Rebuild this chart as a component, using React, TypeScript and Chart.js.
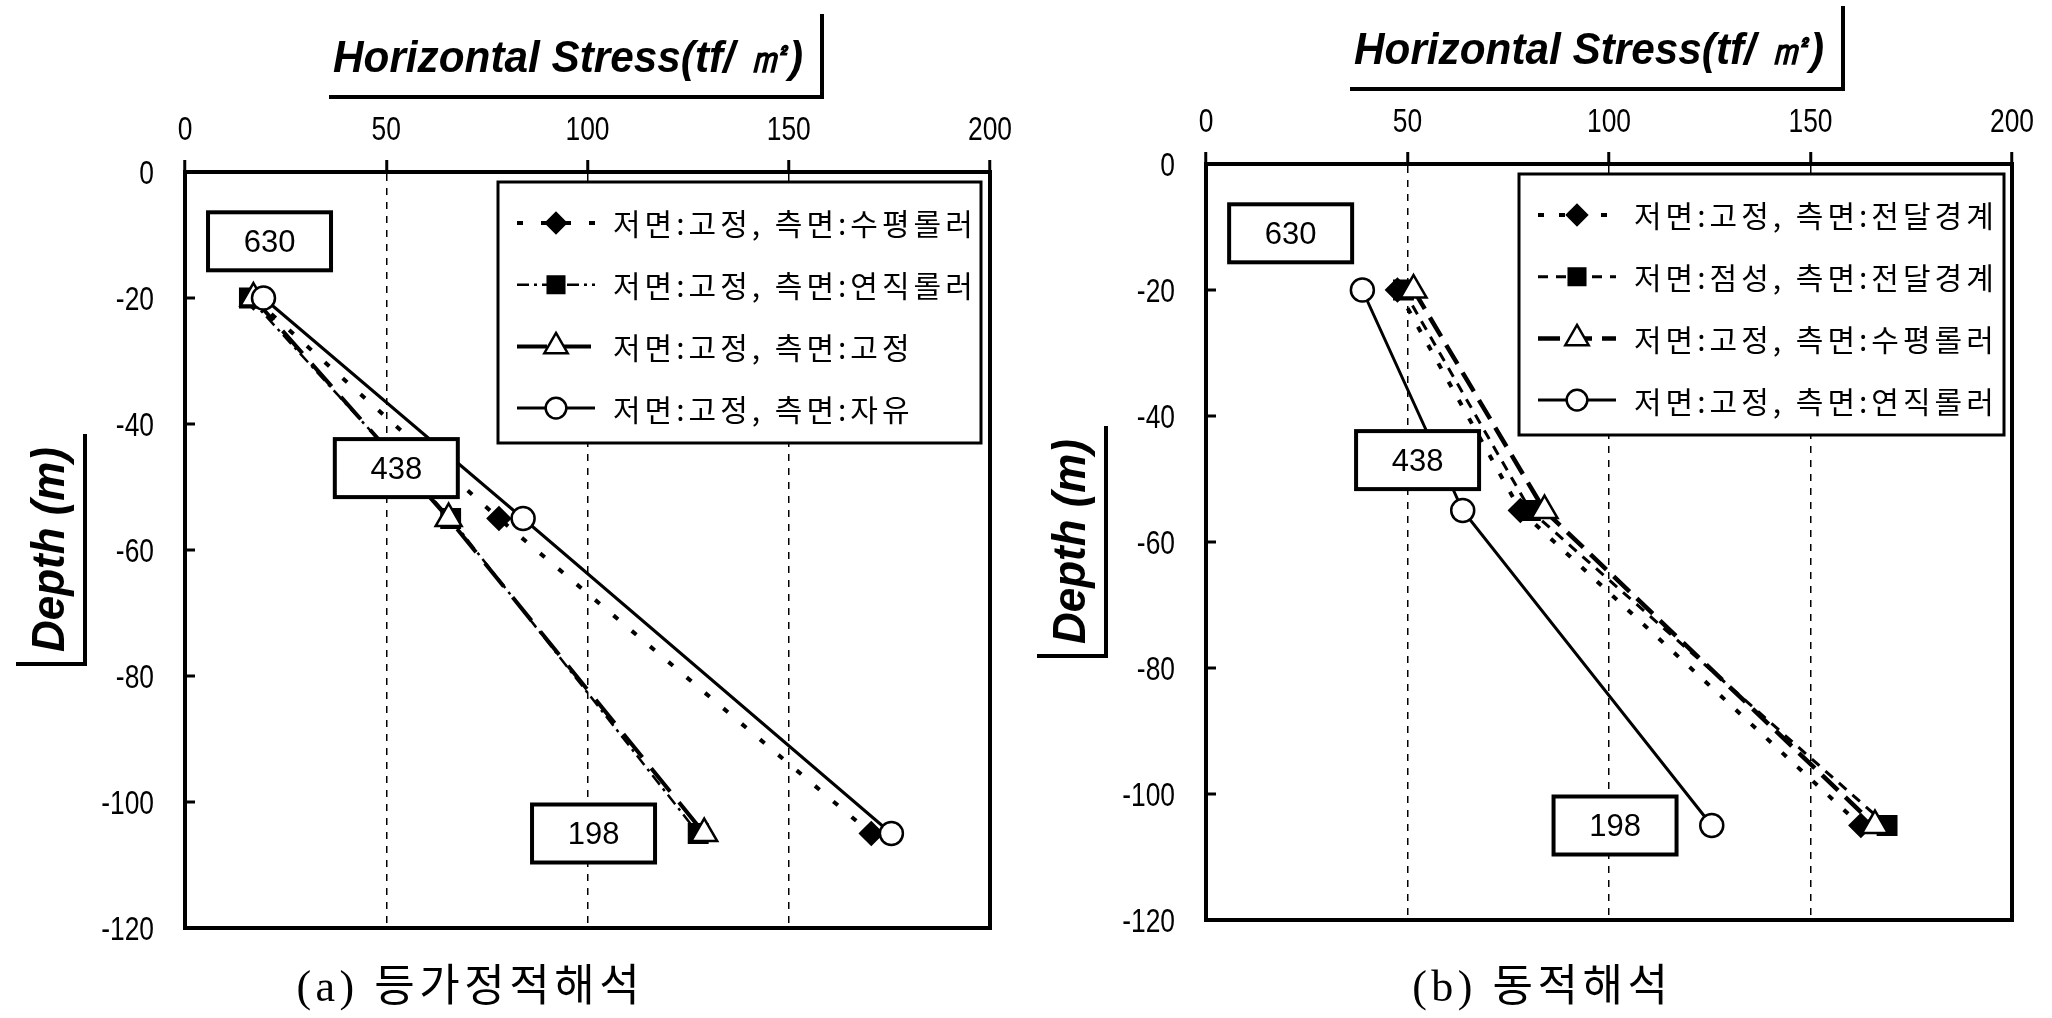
import React, { useEffect, useRef } from 'react';
import { Chart, registerables } from 'chart.js';

Chart.register(...registerables);

// ---------------- data ----------------
const depthLevels = [-20, -55, -105];
const xTickValues = [0, 50, 100, 150, 200];
const yTickValues = [0, -20, -40, -60, -80, -100, -120];

// (a) 등가정적해석
const aFixedHorizRoller = [17, 78, 170.5];
const aFixedVertRoller = [16, 66, 127.5];
const aFixedFixed = [17, 65.5, 129];
const aFixedFree = [19.5, 84, 175.5];
const labelsA = ['저면:고정, 측면:수평롤러', '저면:고정, 측면:연직롤러', '저면:고정, 측면:고정', '저면:고정, 측면:자유'];

// (b) 동적해석
const bFixedTransmit = [47.5, 78, 162.5];
const bViscousTransmit = [49, 80.5, 169];
const bFixedHorizRoller = [51.5, 84, 166];
const bFixedVertRoller = [38.8, 63.7, 125.5];
const labelsB = ['저면:고정, 측면:전달경계', '저면:점성, 측면:전달경계', '저면:고정, 측면:수평롤러', '저면:고정, 측면:연직롤러'];

// boxed annotations (data coordinates)
const boxTexts = ['630', '438', '198'];
const boxXValues = [21, 52.5, 101.5];
const boxYValues = [-11, -47, -105];

const axisTitleX = 'Horizontal Stress(tf/ ㎡)';
const axisTitleY = 'Depth (m)';
const captionA = '(a) 등가정적해석';
const captionB = '(b) 동적해석';

// ---------------- styles ----------------
const markerStyles = ['rectRot', 'rect', 'triangle', 'circle'];
const markerFill = ['#000', '#000', '#fff', '#fff'];
const markerRadius = [11, 13, 15, 11.5];
const drawOrder = [2, 3, 1, 0];
const lineWidthsA = [4, 2.5, 4, 3];
const dashesA = [[6, 18], [12, 5, 3, 5], [30, 14], []];
const lineWidthsB = [4, 3, 4.5, 3];
const dashesB = [[6, 15], [10, 8], [22, 10], []];

function drawMarker(ctx: CanvasRenderingContext2D, style: string, x: number, y: number, r: number, fill: string) {
  ctx.save();
  ctx.setLineDash([]);
  ctx.beginPath();
  if (style === 'circle') {
    ctx.arc(x, y, r, 0, Math.PI * 2);
  } else if (style === 'rectRot') {
    ctx.moveTo(x - r, y);
    ctx.lineTo(x, y - r);
    ctx.lineTo(x + r, y);
    ctx.lineTo(x, y + r);
    ctx.closePath();
  } else if (style === 'rect') {
    const s = r * Math.SQRT1_2;
    ctx.rect(x - s, y - s, 2 * s, 2 * s);
  } else {
    let rad = 0;
    ctx.moveTo(x + Math.sin(rad) * r, y - Math.cos(rad) * r);
    rad += (2 * Math.PI) / 3;
    ctx.lineTo(x + Math.sin(rad) * r, y - Math.cos(rad) * r);
    rad += (2 * Math.PI) / 3;
    ctx.lineTo(x + Math.sin(rad) * r, y - Math.cos(rad) * r);
    ctx.closePath();
  }
  ctx.fillStyle = fill;
  ctx.fill();
  ctx.lineWidth = 2.5;
  ctx.strokeStyle = '#000';
  ctx.stroke();
  ctx.restore();
}

function drawSpaced(ctx: CanvasRenderingContext2D, text: string, x: number, y: number, spacing: number, align: 'left' | 'center') {
  const chars = Array.from(text);
  const widths = chars.map((c) => ctx.measureText(c).width);
  const total = widths.reduce((a, b) => a + b, 0) + spacing * (chars.length - 1);
  let cx = align === 'center' ? x - total / 2 : x;
  ctx.textAlign = 'left';
  chars.forEach((c, i) => {
    ctx.fillText(c, cx, y);
    cx += widths[i] + spacing;
  });
}

function drawFitted(ctx: CanvasRenderingContext2D, text: string, x: number, y: number, width: number) {
  const w = ctx.measureText(text).width;
  ctx.save();
  ctx.translate(x, y);
  ctx.scale(width / w, 1);
  ctx.textAlign = 'left';
  ctx.fillText(text, 0, 0);
  ctx.restore();
}

function drawCondensed(ctx: CanvasRenderingContext2D, text: string, x: number, y: number, sx: number, align: 'center' | 'right') {
  const w = ctx.measureText(text).width * sx;
  ctx.save();
  ctx.translate(align === 'center' ? x - w / 2 : x - w, y);
  ctx.scale(sx, 1);
  ctx.textAlign = 'left';
  ctx.fillText(text, 0, 0);
  ctx.restore();
}

type PanelCfg = {
  left: number;
  yAxisW: number;
  xAxisH: number;
  padR: number;
  padB: number;
  legendRightGap: number;
  series: number[][];
  labels: string[];
  widths: number[];
  dashes: number[][];
  caption: string;
  captionCenter: number;
};

function makeDecor(cfg: PanelCfg) {
  return {
    id: 'decor',
    beforeDatasetsDraw(chart: any) {
      const { ctx, chartArea: ca } = chart;
      ctx.save();
      ctx.strokeStyle = '#000';
      ctx.setLineDash([]);
      ctx.lineWidth = 4;
      ctx.strokeRect(ca.left, ca.top, ca.right - ca.left, ca.bottom - ca.top);
      const ys = chart.scales.y;
      ctx.lineWidth = 3;
      yTickValues.forEach((v) => {
        const py = ys.getPixelForValue(v);
        ctx.beginPath();
        ctx.moveTo(ca.left, py);
        ctx.lineTo(ca.left + 10, py);
        ctx.stroke();
      });
      ctx.restore();
    },
    afterDatasetsDraw(chart: any) {
      const { ctx, chartArea: ca } = chart;
      const xs = chart.scales.x;
      const ys = chart.scales.y;
      ctx.save();
      // boxed annotations
      boxTexts.forEach((t, i) => {
        const cx = xs.getPixelForValue(boxXValues[i]);
        const cy = ys.getPixelForValue(boxYValues[i]);
        const w = 123, h = 58;
        ctx.fillStyle = '#fff';
        ctx.fillRect(cx - w / 2, cy - h / 2, w, h);
        ctx.lineWidth = 4;
        ctx.strokeStyle = '#000';
        ctx.setLineDash([]);
        ctx.strokeRect(cx - w / 2, cy - h / 2, w, h);
        ctx.fillStyle = '#000';
        ctx.font = '31px "Liberation Sans", Arial, sans-serif';
        ctx.textAlign = 'center';
        ctx.textBaseline = 'middle';
        ctx.fillText(t, cx, cy + 2);
      });
      // legend
      const lx0 = ca.left + 313, lx1 = ca.right - cfg.legendRightGap;
      const ly0 = ca.top + 10, ly1 = ca.top + 271;
      ctx.fillStyle = '#fff';
      ctx.fillRect(lx0, ly0, lx1 - lx0, ly1 - ly0);
      ctx.lineWidth = 3;
      ctx.strokeStyle = '#000';
      ctx.setLineDash([]);
      ctx.strokeRect(lx0, ly0, lx1 - lx0, ly1 - ly0);
      cfg.labels.forEach((lab, i) => {
        const y = ca.top + 51 + i * 61.7;
        const s0 = ca.left + 332, s1 = ca.left + 410;
        ctx.save();
        ctx.strokeStyle = '#000';
        ctx.lineWidth = cfg.widths[i];
        ctx.setLineDash(cfg.dashes[i]);
        ctx.beginPath();
        ctx.moveTo(s0, y);
        ctx.lineTo(s1, y);
        ctx.stroke();
        ctx.restore();
        drawMarker(ctx, markerStyles[i], (s0 + s1) / 2, y, markerRadius[i] * 0.9, markerFill[i]);
        ctx.fillStyle = '#000';
        ctx.font = '30px "Noto Sans CJK KR", sans-serif';
        ctx.textBaseline = 'middle';
        drawSpaced(ctx, lab, ca.left + 428, y + 1, 4, 'left');
      });
      ctx.restore();
    },
    afterDraw(chart: any) {
      const { ctx, chartArea: ca } = chart;
      const xs = chart.scales.x;
      const ys = chart.scales.y;
      ctx.save();
      ctx.fillStyle = '#000';
      ctx.strokeStyle = '#000';
      // tick labels
      ctx.font = '33px "Liberation Sans", Arial, sans-serif';
      ctx.textBaseline = 'middle';
      xTickValues.forEach((v) => {
        drawCondensed(ctx, String(v), xs.getPixelForValue(v), ca.top - 41, 0.8, 'center');
      });
      yTickValues.forEach((v) => {
        drawCondensed(ctx, String(v), ca.left - 31, ys.getPixelForValue(v) + 3, 0.8, 'right');
      });
      // x-axis title with underline + bar
      ctx.font = 'italic bold 44px "Liberation Sans", Arial, sans-serif';
      ctx.textBaseline = 'alphabetic';
      drawFitted(ctx, axisTitleX, ca.left + 148, ca.top - 100, 470);
      ctx.lineWidth = 4;
      ctx.setLineDash([]);
      ctx.beginPath();
      ctx.moveTo(ca.left + 144, ca.top - 75);
      ctx.lineTo(ca.left + 637, ca.top - 75);
      ctx.lineTo(ca.left + 637, Math.max(4, ca.top - 158));
      ctx.stroke();
      // y-axis title with bar + underline
      ctx.save();
      ctx.translate(ca.left - 121, ca.top + 378);
      ctx.rotate(-Math.PI / 2);
      ctx.font = 'italic bold 46px "Liberation Sans", Arial, sans-serif';
      drawFitted(ctx, axisTitleY, -102, 0, 205);
      ctx.restore();
      ctx.beginPath();
      ctx.moveTo(ca.left - 100, ca.top + 262);
      ctx.lineTo(ca.left - 100, ca.top + 492);
      ctx.lineTo(ca.left - 169, ca.top + 492);
      ctx.stroke();
      // caption
      ctx.font = '44px "Liberation Serif", "Noto Sans CJK KR", serif';
      ctx.textBaseline = 'alphabetic';
      drawSpaced(ctx, cfg.caption, cfg.captionCenter, 1001, 4.5, 'center');
      ctx.restore();
    },
  };
}

function Panel({ cfg }: { cfg: PanelCfg }) {
  const ref = useRef<HTMLCanvasElement | null>(null);
  useEffect(() => {
    if (!ref.current) return;
    const datasets = cfg.series.map((vals, i) => ({
      label: cfg.labels[i],
      data: vals.map((x, j) => ({ x, y: depthLevels[j] })),
      showLine: true,
      borderColor: '#000',
      borderWidth: cfg.widths[i],
      borderDash: cfg.dashes[i],
      pointStyle: markerStyles[i],
      pointRadius: markerRadius[i],
      pointBackgroundColor: markerFill[i],
      pointBorderColor: '#000',
      pointBorderWidth: 2.5,
      order: drawOrder[i],
      clip: false,
    }));
    const chart = new Chart(ref.current, {
      type: 'scatter',
      data: { datasets },
      options: {
        responsive: false,
        animation: false,
        layout: { padding: { left: 0, top: 0, right: cfg.padR, bottom: cfg.padB } },
        plugins: { legend: { display: false }, tooltip: { enabled: false } },
        scales: {
          x: {
            type: 'linear',
            position: 'top',
            min: 0,
            max: 200,
            afterBuildTicks: (s: any) => {
              s.ticks = xTickValues.map((v) => ({ value: v }));
            },
            afterFit: (s: any) => {
              s.height = cfg.xAxisH;
            },
            ticks: { display: false },
            grid: {
              display: true,
              drawOnChartArea: true,
              drawTicks: true,
              color: '#000',
              lineWidth: 1.5,
              tickLength: 12,
              tickWidth: 3,
              tickColor: '#000',
              tickBorderDash: [],
            },
            border: { display: true, color: '#000', width: 4, dash: [7, 7] },
          },
          y: {
            type: 'linear',
            position: 'left',
            min: -120,
            max: 0,
            afterBuildTicks: (s: any) => {
              s.ticks = yTickValues.map((v) => ({ value: v }));
            },
            afterFit: (s: any) => {
              s.width = cfg.yAxisW;
            },
            ticks: { display: false },
            grid: { display: false },
            border: { display: true, color: '#000', width: 4 },
          },
        },
      } as any,
      plugins: [makeDecor(cfg) as any],
    });
    return () => chart.destroy();
  }, []);
  return (
    <canvas
      ref={ref}
      width={1026}
      height={1018}
      style={{ position: 'absolute', left: cfg.left, top: 0, width: 1026, height: 1018 }}
    />
  );
}

const panelA: PanelCfg = {
  left: 0,
  yAxisW: 185,
  xAxisH: 172,
  padR: 36,
  padB: 90,
  legendRightGap: 9,
  series: [aFixedHorizRoller, aFixedVertRoller, aFixedFixed, aFixedFree],
  labels: labelsA,
  widths: lineWidthsA,
  dashes: dashesA,
  caption: captionA,
  captionCenter: 468,
};

const panelB: PanelCfg = {
  left: 1026,
  yAxisW: 180,
  xAxisH: 164,
  padR: 40,
  padB: 98,
  legendRightGap: 8,
  series: [bFixedTransmit, bViscousTransmit, bFixedHorizRoller, bFixedVertRoller],
  labels: labelsB,
  widths: lineWidthsB,
  dashes: dashesB,
  caption: captionB,
  captionCenter: 514,
};

export default function App() {
  return (
    <div
      style={{
        position: 'fixed',
        left: 0,
        top: 0,
        width: 2052,
        height: 1018,
        background: '#fff',
        overflow: 'hidden',
      }}
    >
      <Panel cfg={panelA} />
      <Panel cfg={panelB} />
    </div>
  );
}
